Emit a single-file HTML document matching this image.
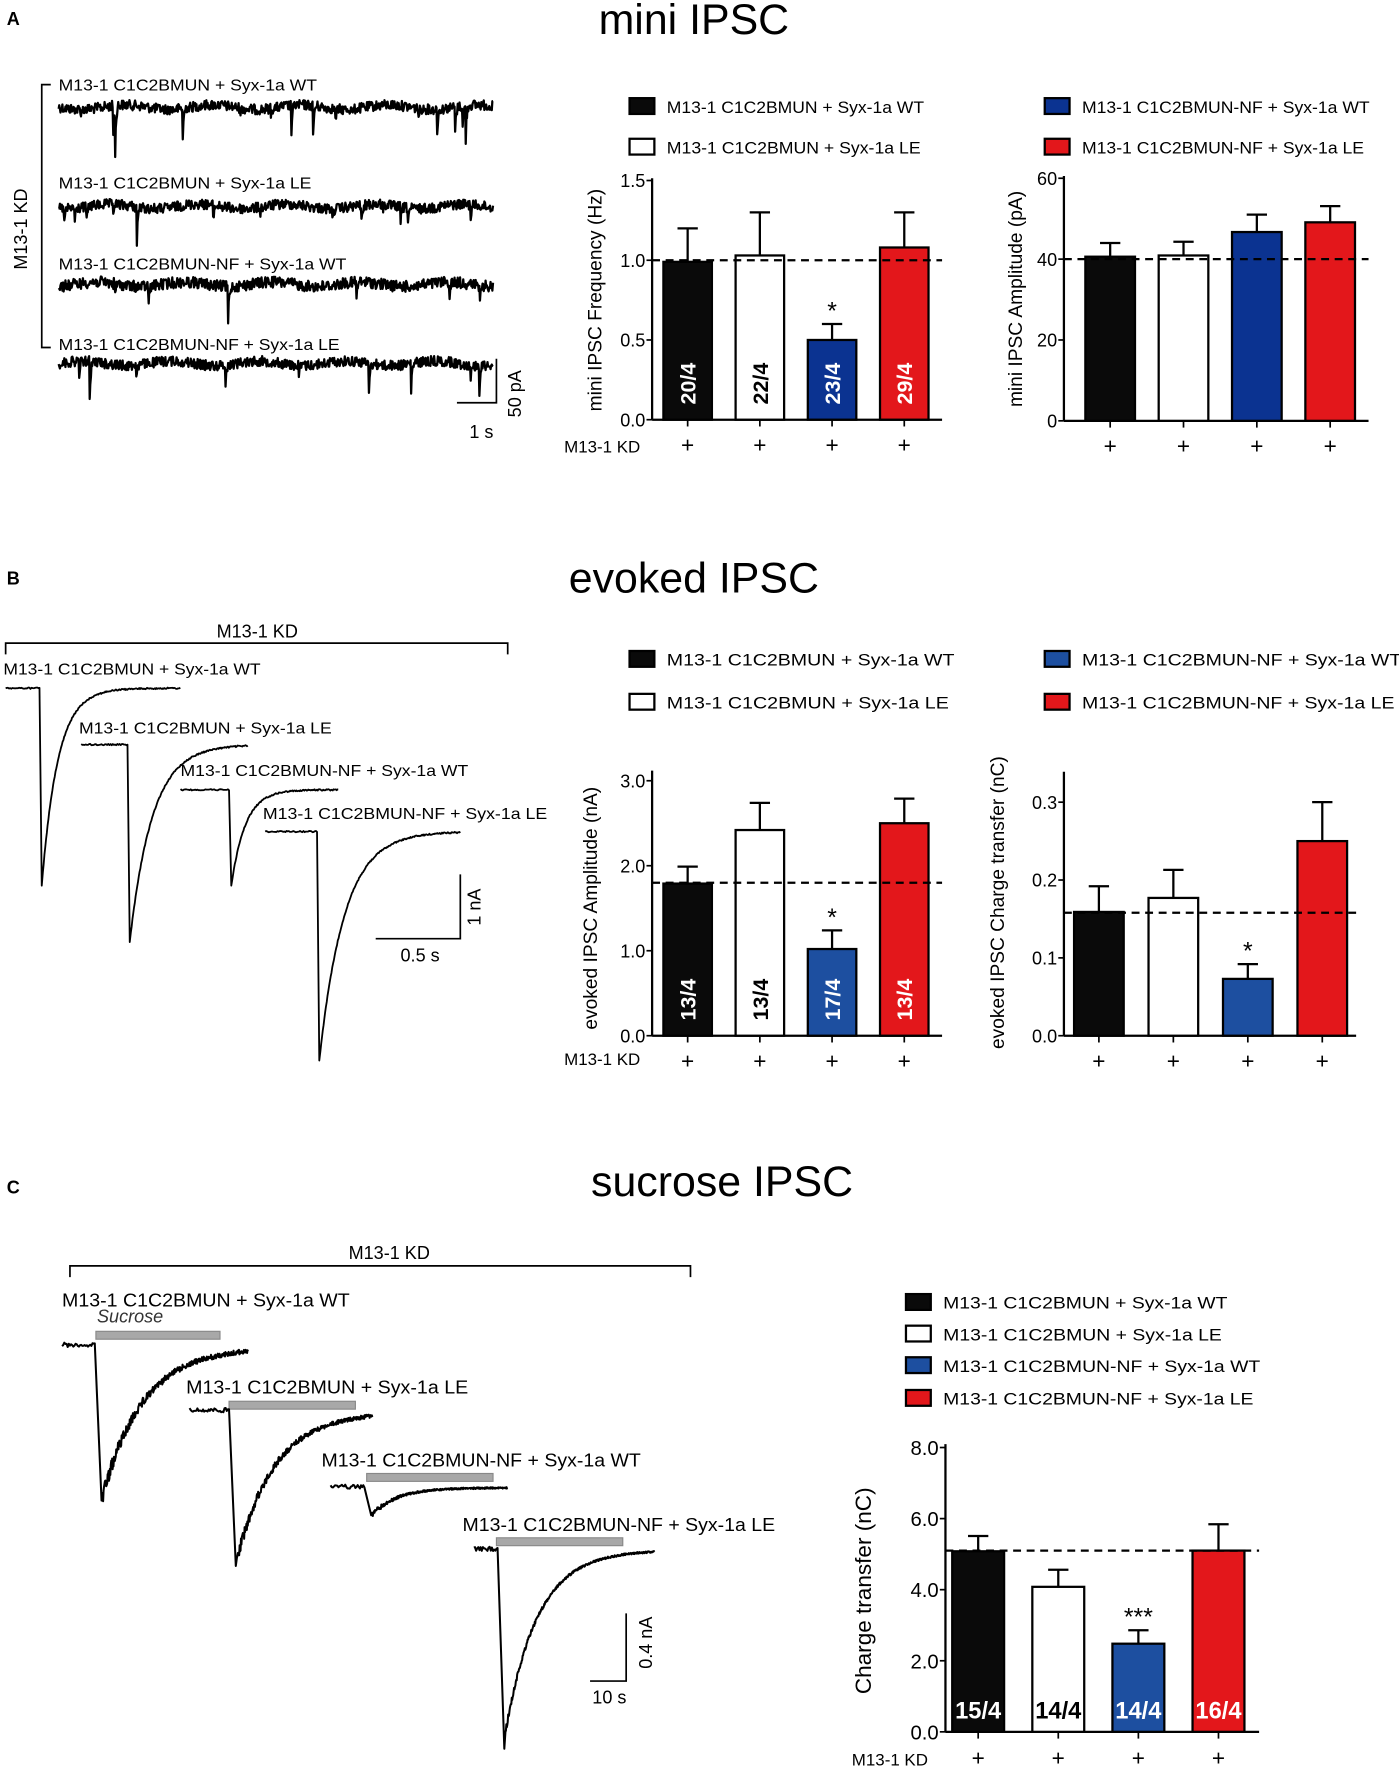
<!DOCTYPE html>
<html><head><meta charset="utf-8">
<style>
html,body{margin:0;padding:0;background:#fff;}
svg{display:block;font-family:"Liberation Sans",Arial,sans-serif;}
</style></head>
<body>
<svg id="fig" width="1399" height="1772" viewBox="0 0 1240 1570.6" preserveAspectRatio="none" xmlns="http://www.w3.org/2000/svg">
<rect x="0" y="0" width="1240" height="1570.6" fill="#fff"/>
<text x="6" y="22" font-size="16" font-weight="bold">A</text>
<text x="615" y="30" font-size="38" text-anchor="middle">mini IPSC</text>
<text x="6" y="518" font-size="16" font-weight="bold">B</text>
<text x="615" y="525" font-size="38" text-anchor="middle">evoked IPSC</text>
<text x="6" y="1058" font-size="16" font-weight="bold">C</text>
<text x="640" y="1060" font-size="38" text-anchor="middle">sucrose IPSC</text>
<g id="layer"></g>
</svg>
<script>
// ---------- Data ----------
const groups = ["M13-1 C1C2BMUN + Syx-1a WT","M13-1 C1C2BMUN + Syx-1a LE","M13-1 C1C2BMUN-NF + Syx-1a WT","M13-1 C1C2BMUN-NF + Syx-1a LE"];
const miniFreqValues = [0.99, 1.03, 0.50, 1.08];
const miniFreqErrors = [0.21, 0.27, 0.10, 0.22];
const miniFreqN = ["20/4","22/4","23/4","29/4"];
const miniFreqTicks = [0.0, 0.5, 1.0, 1.5];
const miniFreqTickLabels = ["0.0","0.5","1.0","1.5"];
const miniAmpValues = [40.6, 40.9, 46.7, 49.1];
const miniAmpErrors = [3.4, 3.4, 4.3, 4.0];
const miniAmpTicks = [0, 20, 40, 60];
const miniAmpTickLabels = ["0","20","40","60"];
const evAmpValues = [1.79, 2.42, 1.02, 2.50];
const evAmpErrors = [0.20, 0.32, 0.22, 0.29];
const evAmpN = ["13/4","13/4","17/4","13/4"];
const evAmpTicks = [0, 1, 2, 3];
const evAmpTickLabels = ["0.0","1.0","2.0","3.0"];
const evQValues = [0.159, 0.177, 0.073, 0.250];
const evQErrors = [0.033, 0.036, 0.019, 0.050];
const evQTicks = [0, 0.1, 0.2, 0.3];
const evQTickLabels = ["0.0","0.1","0.2","0.3"];
const sucValues = [5.08, 4.08, 2.48, 5.10];
const sucErrors = [0.43, 0.48, 0.38, 0.74];
const sucN = ["15/4","14/4","14/4","16/4"];
const sucTicks = [0, 2, 4, 6, 8];
const sucTickLabels = ["0.0","2.0","4.0","6.0","8.0"];
const miniSpikePos = [
 [0.05,0.125,0.13,0.285,0.418,0.488,0.535,0.585,0.637,0.675,0.828,0.871,0.912,0.936,0.93],
 [0.012,0.036,0.064,0.125,0.18,0.355,0.463,0.63,0.696,0.746,0.786,0.803,0.948,0.70],
 [0.13,0.206,0.39,0.685,0.899,0.97],
 [0.046,0.071,0.178,0.383,0.552,0.714,0.811,0.948,0.968]
];
const miniSpikeDepth = [
 [4,35,41,38,5,6,35,38,12,6,10,25,35,53,20],
 [21,21,16,9,32,18,9,12,24,7,24,21,16,8],
 [9,29,34,21,25,18],
 [22,46,12,32,18,30,30,18,34]
];

const COLORS = ["#0a0a0a","#ffffff","#0b3391","#e3171b"];
const layer = document.getElementById('layer');
const NS = "http://www.w3.org/2000/svg";
function mk(tag, attrs, parent){
  const e = document.createElementNS(NS, tag);
  for (const k in attrs) e.setAttribute(k, attrs[k]);
  (parent||layer).appendChild(e);
  return e;
}
function txt(s, attrs, parent){ const e = mk('text', attrs, parent); e.textContent = s; return e; }

function barChart(o){
  const g = mk('g', {});
  
  
  const yScale = v => o.y0 - (v - o.vmin) / (o.vmax - o.vmin) * (o.y0 - o.yTop);
  const ya = mk('line', {x1:o.ax, y1:o.axisTop, x2:o.ax, y2:o.y0, stroke:'#000','stroke-width':2}, g);
  
  
  const xa = mk('line', {x1:o.ax, y1:o.y0, x2:o.axEnd, y2:o.y0, stroke:'#000','stroke-width':2}, g);
  
  
  const ts = o.tickSize || 16;
  o.ticks.forEach((t,i)=>{
    const y = yScale(t);
    mk('line', {x1:o.ax-5, y1:y, x2:o.ax, y2:y, stroke:'#000','stroke-width':1.5}, g);
    const tl = txt(o.tickLabels[i], {x:o.ax-6, y:y+ts*0.37, 'font-size':ts, 'text-anchor':'end'}, g);
    
    
  });
  const yl = txt(o.ylabel, {x:0, y:0, 'font-size':o.ylabelSize||17, 'text-anchor':'middle', transform:`translate(${o.ylx},${o.yly}) rotate(-90)`}, g);
  
  
  o.values.forEach((v,i)=>{
    const x = o.left0 + i*o.step;
    const cx = x + o.bw/2;
    const top = yScale(v);
    const et = yScale(v + o.errors[i]);
    mk('line', {x1:cx, y1:top, x2:cx, y2:et, stroke:'#000','stroke-width':2}, g);
    mk('line', {x1:cx-9, y1:et, x2:cx+9, y2:et, stroke:'#000','stroke-width':2}, g);
    const r = mk('rect', {x:x, y:top, width:o.bw, height:o.y0-top, fill:o.colors[i], stroke:'#000','stroke-width':2}, g);
    
    
    mk('line', {x1:cx, y1:o.y0, x2:cx, y2:o.y0+6, stroke:'#000','stroke-width':1.5}, g);
    const p = txt('+', {x:cx, y:o.y0+(o.plusDy||29), 'font-size':20, 'text-anchor':'middle'}, g);
    
    
    if (o.nlabels){
      const col = i===1 ? '#000' : '#fff';
      let nl;
      if (o.nRot) nl = txt(o.nlabels[i], {x:0, y:0, 'font-size':19, 'font-weight':'bold', fill:col, 'text-anchor':'middle', transform:`translate(${cx+7},${o.y0-32}) rotate(-90)`}, g);
      else nl = txt(o.nlabels[i], {x:cx, y:o.y0-12, 'font-size':21, 'font-weight':'bold', fill:col, 'text-anchor':'middle'}, g);
      
      
    }
    if (o.stars && o.stars[i]){
      const s = txt(o.stars[i], {x:cx, y:et-4, 'font-size':22, 'text-anchor':'middle'}, g);
      
      
    }
  });
  if (o.dash !== undefined){
    const dy = yScale(o.dash);
    const d = mk('line', {x1:o.ax, y1:dy, x2:o.axEnd, y2:dy, stroke:'#000','stroke-width':2,'stroke-dasharray':'7,5'}, g);
    
    
  }
  if (o.kd){
    const k = txt('M13-1 KD', {x:o.kd[0], y:o.kd[1], 'font-size':15}, g);
    
    
  }
}
function legendEntry(x, y, color, label, len){
  const g = mk('g', {});
  
  
  mk('rect', {x:x, y:y, width:22, height:14, fill:color, stroke:'#000','stroke-width':2}, g);
  txt(label, {x:x+33, y:y+13, 'font-size':15, textLength:len, lengthAdjust:'spacingAndGlyphs'}, g);
}

legendEntry(558,87,COLORS[0],groups[0],228);
legendEntry(558,123,COLORS[1],groups[1],225);
legendEntry(926,87,COLORS[2],groups[2],255);
legendEntry(926,123,COLORS[3],groups[3],250);
barChart({name:'mini-frequency-chart', ax:578, axEnd:835, y0:372, yTop:160, axisTop:158, vmin:0, vmax:1.5,
  ticks:miniFreqTicks, tickLabels:miniFreqTickLabels, values:miniFreqValues, errors:miniFreqErrors, colors:COLORS,
  left0:588, step:64, bw:43, nlabels:miniFreqN, nRot:true, stars:["","","*",""], dash:1.0,
  ylabel:'mini IPSC Frequency (Hz)', ylx:533, yly:266, kd:[500,401]});
barChart({name:'mini-amplitude-chart', ax:943, axEnd:1213, y0:373, yTop:158, axisTop:156, vmin:0, vmax:60,
  ticks:miniAmpTicks, tickLabels:miniAmpTickLabels, values:miniAmpValues, errors:miniAmpErrors, colors:COLORS,
  left0:962, step:65, bw:44, dash:40, ylabel:'mini IPSC Amplitude (pA)', ylx:906, yly:265});

legendEntry(558,577,COLORS[0],groups[0],255);
legendEntry(558,615,COLORS[1],groups[1],250);
legendEntry(926,577,'#1d4fa0',groups[2],283);
legendEntry(926,615,COLORS[3],groups[3],277);
barChart({name:'evoked-amplitude-chart', ax:578, axEnd:835, y0:918, yTop:692, axisTop:683, vmin:0, vmax:3,
  ticks:evAmpTicks, tickLabels:evAmpTickLabels, values:evAmpValues, errors:evAmpErrors, colors:[COLORS[0],COLORS[1],'#1d4fa0',COLORS[3]],
  left0:588, step:64, bw:43, nlabels:evAmpN, nRot:true, stars:["","","*",""], dash:1.8,
  ylabel:'evoked IPSC Amplitude (nA)', ylx:529, yly:805, kd:[500,944]});
barChart({name:'evoked-charge-chart', ax:943, axEnd:1202, y0:918, yTop:711, axisTop:684, vmin:0, vmax:0.3,
  ticks:evQTicks, tickLabels:evQTickLabels, values:evQValues, errors:evQErrors, colors:[COLORS[0],COLORS[1],'#1d4fa0',COLORS[3]],
  left0:952, step:66, bw:44, stars:["","","*",""], dash:0.158,
  ylabel:'evoked IPSC Charge transfer (nC)', ylx:890, yly:800});

legendEntry(803,1147,COLORS[0],groups[0],252);
legendEntry(803,1175,COLORS[1],groups[1],247);
legendEntry(803,1203,'#1d4fa0',groups[2],281);
legendEntry(803,1232,COLORS[3],groups[3],275);
barChart({name:'sucrose-charge-chart', ax:838, axEnd:1116, y0:1535, yTop:1283, axisTop:1280, vmin:0, vmax:8,
  ticks:sucTicks, tickLabels:sucTickLabels, values:sucValues, errors:sucErrors, colors:[COLORS[0],COLORS[1],'#1d4fa0',COLORS[3]],
  left0:844, step:71, bw:46, nlabels:sucN, nRot:false, stars:["","","***",""], dash:5.1, tickSize:18, plusDy:30,
  ylabel:'Charge transfer (nC)', ylabelSize:20, ylx:772, yly:1410, kd:[755,1565]});

// ---------- Traces ----------
let seed = 12345;
function noise(){ seed = (seed*1103515245 + 12345) % 2147483648; return seed/2147483648 - 0.5; }
function pathFrom(pts){ return 'M' + pts.map(p=>p[0].toFixed(1)+','+p[1].toFixed(1)).join('L'); }
function addPath(d, name, w){
  const p = mk('path', {d:d, fill:'none', stroke:'#000', 'stroke-width':w||1.6, 'stroke-linejoin':'round'});
  
  
}
function label(s, x, y, size, len, name){
  const t = txt(s, {x:x, y:y, 'font-size':size, textLength:len, lengthAdjust:'spacingAndGlyphs'});
  
  
}

const miniBase = [95,183,252,322];
const miniLabelY = [80,167,239,310];
const miniLabelLen = [229,224,255,249];
for (let k=0;k<4;k++){
  label(groups[k], 52, miniLabelY[k], 14, miniLabelLen[k], 'trace-label');
  const x0=52, x1=437, N=700, pts=[];
  for (let i=0;i<=N;i++){
    const f=i/N; let y=miniBase[k] + noise()*(k===2?10:9) + Math.sin(f*31+k)*2;
    miniSpikePos[k].forEach((sp,j)=>{ const d=(f-sp)*N; if (d>=0 && d<5) y += miniSpikeDepth[k][j]*Math.exp(-d*0.7); });
    pts.push([x0+(x1-x0)*f, y]);
  }
  addPath(pathFrom(pts), 'mini-trace-'+(k+1), 2);
}
mk('path', {d:'M45,75 L37,75 L37,308 L45,308', fill:'none', stroke:'#000','stroke-width':1.5});
const kdA = txt('M13-1 KD', {x:0,y:0,'font-size':16,'text-anchor':'middle',transform:'translate(24,203) rotate(-90)'});
 
mk('path', {d:'M405,357 L440,357 L440,318', fill:'none', stroke:'#000','stroke-width':1.5});
txt('1 s', {x:416,y:388,'font-size':16});
txt('50 pA', {x:0,y:0,'font-size':16,'text-anchor':'middle',transform:'translate(462,349) rotate(-90)'});

const evB = [[5,610,37,785,160,0.07],[72,660,115,835,220,0.05],[160,700,205,785,300,0.08],[235,737,283,940,408,0.045]];
const evLbl = [[3,598,228],[70,650,224],[160,688,255],[233,726,252]];
for (let k=0;k<4;k++){
  label(groups[k], evLbl[k][0], evLbl[k][1], 14, evLbl[k][2], 'trace-label');
  const [xs,yb,xp,yp,xe,tau]=evB[k]; const pts=[];
  for (let x=xs;x<=xp-2;x+=1) pts.push([x, yb+noise()*1.2]);
  pts.push([xp,yp]);
  for (let x=xp+1;x<=xe;x+=0.7) pts.push([x, yb+(yp-yb)*Math.exp(-(x-xp)*tau)+noise()*1.3]);
  addPath(pathFrom(pts), 'evoked-trace-'+(k+1), 1.6);
}
mk('path', {d:'M5,580 L5,570 L450,570 L450,580', fill:'none', stroke:'#000','stroke-width':1.5});
txt('M13-1 KD', {x:228,y:565,'font-size':16,'text-anchor':'middle'});
mk('path', {d:'M333,832 L408,832 L408,775', fill:'none', stroke:'#000','stroke-width':1.5});
txt('0.5 s', {x:355,y:852,'font-size':16});
txt('1 nA', {x:0,y:0,'font-size':16,'text-anchor':'middle',transform:'translate(426,804) rotate(-90)'});

const suc = [[55,1192,88,1330,220,0.028,22,85,195,1183],[168,1250,207,1388,330,0.03,18,203,315,1245],[293,1318,327,1343,450,0.045,8,325,437,1309],[420,1373,445,1550,580,0.035,9,440,552,1366]];
const sucLbl = [[55,1158,255],[165,1235,250],[285,1300,283],[410,1357,277]];
for (let k=0;k<4;k++){
  label(groups[k], sucLbl[k][0], sucLbl[k][1], 16, sucLbl[k][2], 'trace-label');
  const [xs,yb,xp,yp,xe,tau,nz,b0,b1,by]=suc[k]; const pts=[];
  const bar = mk('rect', {x:b0, y:by-3, width:b1-b0, height:7, fill:'#a8a8a8', stroke:'#888','stroke-width':1});
   
  for (let x=xs;x<=xp-4;x+=1) pts.push([x, yb+noise()*4]);
  pts.push([xp+2,yp]);
  for (let x=xp+3;x<=xe;x+=0.4) { const a=Math.exp(-(x-xp)*tau); pts.push([x, yb+(yp-yb)*a+Math.abs(noise())*nz*(0.35+a)]); }
  addPath(pathFrom(pts), 'sucrose-trace-'+(k+1), 1.8);
}
txt('Sucrose', {x:86,y:1172,'font-size':16,'font-style':'italic',fill:'#333'});
mk('path', {d:'M62,1132 L62,1122 L612,1122 L612,1132', fill:'none', stroke:'#000','stroke-width':1.5});
txt('M13-1 KD', {x:345,y:1116,'font-size':16,'text-anchor':'middle'});
mk('path', {d:'M523,1490 L555,1490 L555,1430', fill:'none', stroke:'#000','stroke-width':1.5});
txt('10 s', {x:525,y:1510,'font-size':16});
txt('0.4 nA', {x:0,y:0,'font-size':16,'text-anchor':'middle',transform:'translate(578,1456) rotate(-90)'});
</script>
</body></html>
